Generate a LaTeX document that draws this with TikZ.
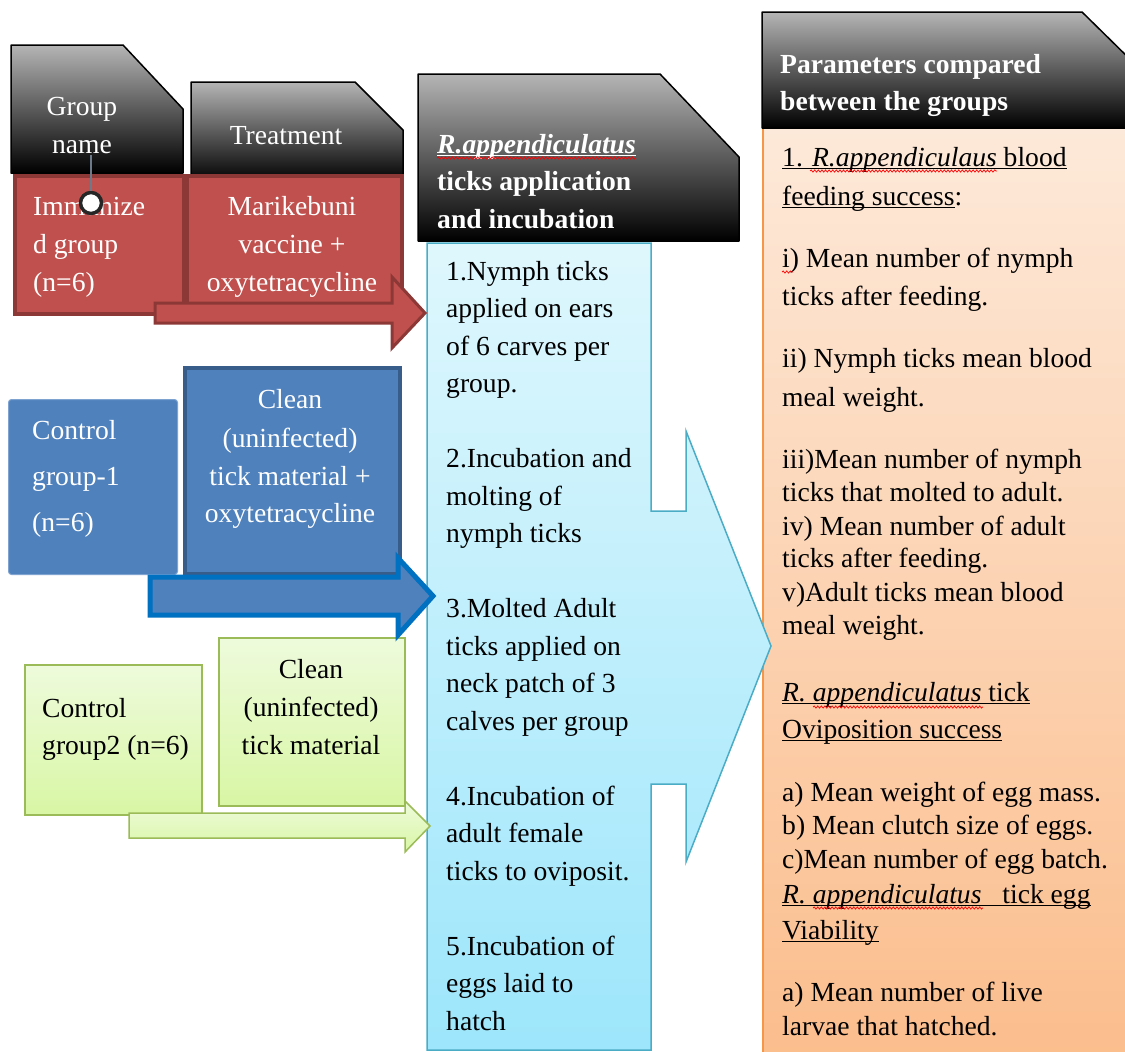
\documentclass[tikz,border=0pt]{standalone}
\usepackage{fontspec}
\setmainfont{Liberation Serif}
\usetikzlibrary{decorations.pathmorphing}
\definecolor{redfill}{HTML}{C0504D}
\definecolor{redline}{HTML}{8C3836}
\definecolor{bluefill}{HTML}{4F81BD}
\definecolor{blueline}{HTML}{385D8A}
\definecolor{bluelight}{HTML}{7FA3D1}
\definecolor{bluearrow}{HTML}{0070C0}
\definecolor{greentop}{HTML}{EEFBDC}
\definecolor{greenbot}{HTML}{D8F6A4}
\definecolor{greenline}{HTML}{9BBB59}
\definecolor{cyantop}{HTML}{DFF7FD}
\definecolor{cyanbot}{HTML}{9DE6FB}
\definecolor{cyanline}{HTML}{4BACC6}
\definecolor{orangetop}{HTML}{FDE9D9}
\definecolor{orangebot}{HTML}{FBBD8C}
\definecolor{orangeline}{HTML}{F79646}
\definecolor{headtop}{HTML}{B5B5B5}
\definecolor{pinline}{HTML}{6C7A89}
\newsavebox\ulbox
\newcommand\ulx[1]{\leavevmode\sbox\ulbox{#1}\rlap{\rule[-3pt]{\wd\ulbox}{1.1pt}}\usebox\ulbox}
\tikzset{
  txt/.style={inner sep=0pt, font=\fontsize{27.6pt}{37.5pt}\selectfont},
  wtxt/.style={txt, text=white},
  btxt/.style={inner sep=0pt, text=white, font=\fontsize{27.6pt}{37.5pt}\selectfont\bfseries},
  header/.style={top color=headtop, bottom color=black, draw=black, line width=1.5pt, line join=round},
  redbox/.style={fill=redfill, draw=redline, line width=3.5pt, anchor=north west, inner sep=0pt},
  bluebox/.style={fill=bluefill, anchor=north west, inner sep=0pt},
  greenbox/.style={top color=greentop, bottom color=greenbot, draw=greenline, line width=1.5pt, anchor=north west, inner sep=0pt},
  squig/.style={red, line width=0.7pt, decorate, decoration={snake, amplitude=1.1pt, segment length=3.6pt}},
}
\begin{document}
\begin{tikzpicture}[x=1pt,y=-1pt]
\useasboundingbox (0,0) rectangle (1125,1052);
\clip (0,0) rectangle (1125,1052);

% right column
\shadedraw[top color=orangetop, bottom color=orangebot, draw=orangeline, line width=1.8pt] (763,128) rectangle (1145,1065);
\shadedraw[header] (762,12) -- (1082,12) -- (1200,128) -- (762,128) -- cycle;

% headers
\shadedraw[header] (11,45) -- (123,45) -- (183,109) -- (183,173) -- (11,173) -- cycle;
\shadedraw[header] (191,82) -- (355,82) -- (403,130) -- (403,182) -- (191,182) -- cycle;
\shadedraw[header] (418,74) -- (660,74) -- (739,157) -- (739,241) -- (418,241) -- cycle;

% group boxes
\node[redbox, minimum width=169, minimum height=138] (immbox) at (13,174) {};
\node[redbox, minimum width=215, minimum height=129] (vacbox) at (185,174) {};
\node[bluebox, rounded corners=3pt, draw=bluelight, line width=1pt, minimum width=169, minimum height=175] (c1box) at (8,399) {};
\node[bluebox, draw=blueline, line width=3.5pt, minimum width=215, minimum height=206] (c1tbox) at (183,366) {};
\node[greenbox, minimum width=177, minimum height=150] (c2box) at (24,664) {};
\node[greenbox, minimum width=186, minimum height=168] (c2tbox) at (218,637) {};

% central process arrow
\shadedraw[top color=cyantop, bottom color=cyanbot, draw=cyanline, line width=1.5pt, line join=miter]
  (427,243) -- (651,243) -- (651,511) -- (686,511) -- (686,431) -- (771,646) -- (686,862)
  -- (686,784) -- (651,784) -- (651,1050) -- (427,1050) -- cycle;

% block arrows
\filldraw[fill=redfill, draw=redline, line width=3pt, line join=miter]
  (155,303) -- (392,303) -- (392,277) -- (425,313) -- (392,348) -- (392,323) -- (155,323) -- cycle;
\filldraw[fill=bluefill, draw=bluearrow, line width=5pt, line join=miter]
  (150,577) -- (398,577) -- (398,558) -- (433,596) -- (398,635) -- (398,615) -- (150,615) -- cycle;
\shadedraw[top color=greentop, bottom color=greenbot, draw=greenline, line width=1.5pt, line join=miter]
  (129,813) -- (405,813) -- (405,801) -- (430,826) -- (405,852) -- (405,838) -- (129,838) -- cycle;

% header texts
\node[wtxt, anchor=base] (gn1) at (82,115) {Group};
\node[wtxt, anchor=base] (gn2) at (82,153) {name};
\node[wtxt, anchor=base] (tr) at (286,144) {Treatment};
\node[btxt, anchor=base west] (ch1) at (437,153) {\ulx{\textit{R.appendiculatus}}};
\node[btxt, anchor=base west] (ch2) at (437,190) {ticks application};
\node[btxt, anchor=base west] (ch3) at (437,228) {and incubation};
\node[btxt, anchor=base west] (rh1) at (780,73) {Parameters compared};
\node[btxt, anchor=base west] (rh2) at (780,110) {between the groups};

% group texts
\node[wtxt, anchor=base west] (im1) at (33,215) {Immunize};
\node[wtxt, anchor=base west] (im2) at (33,253) {d group};
\node[wtxt, anchor=base west] (im3) at (33,291) {(n=6)};
\node[wtxt, anchor=base] (va1) at (292,215) {Marikebuni};
\node[wtxt, anchor=base] (va2) at (292,253) {vaccine +};
\node[wtxt, anchor=base] (va3) at (292,291) {oxytetracycline};
\node[wtxt, anchor=base west] (ca1) at (32,439) {Control};
\node[wtxt, anchor=base west] (ca2) at (32,485) {group-1};
\node[wtxt, anchor=base west] (ca3) at (32,531) {(n=6)};
\node[wtxt, anchor=base] (ct1) at (290,408) {Clean};
\node[wtxt, anchor=base] (ct2) at (290,447) {(uninfected)};
\node[wtxt, anchor=base] (ct3) at (290,485) {tick material +};
\node[wtxt, anchor=base] (ct4) at (290,522) {oxytetracycline};
\node[txt, anchor=base west] (cb1) at (42,717) {Control};
\node[txt, anchor=base west] (cb2) at (42,754) {group2 (n=6)};
\node[txt, anchor=base] (cu1) at (311,678) {Clean};
\node[txt, anchor=base] (cu2) at (311,716) {(uninfected)};
\node[txt, anchor=base] (cu3) at (311,754) {tick material};

% process steps
\foreach \yy/\s [count=\i] in {
  280/{1.Nymph ticks}, 317.5/{applied on ears}, 355/{of 6 carves per}, 392.5/{group.},
  467.5/{2.Incubation and}, 505/{molting of}, 542.5/{nymph ticks},
  617.5/{3.Molted Adult}, 655/{ticks applied on}, 692.5/{neck patch of 3}, 730/{calves per group},
  805/{4.Incubation of}, 842.5/{adult female}, 880/{ticks to oviposit.},
  955/{5.Incubation of}, 992.5/{eggs laid to}, 1030/{hatch}}
  \node[txt, anchor=base west] (step\i) at (446,\yy) {\s};

% parameters
\foreach \yy/\s [count=\i] in {
  166/{\ulx{1. \textit{R.appendiculaus} blood}}, 205/{\ulx{feeding success}:},
  267/{i) Mean number of nymph}, 305/{ticks after feeding.},
  367/{ii) Nymph ticks mean blood}, 406/{meal weight.},
  468/{iii)Mean number of nymph}, 501/{ticks that molted to adult.},
  535/{iv) Mean number of adult}, 567/{ticks after feeding.},
  601/{v)Adult ticks mean blood}, 634.5/{meal weight.},
  701/{\ulx{\textit{R. appendiculatus} tick}}, 738/{\ulx{Oviposition success}},
  801/{a) Mean weight of egg mass.}, 834.5/{b) Mean clutch size of eggs.},
  868/{c)Mean number of egg batch.},
  903/{\ulx{\textit{R. appendiculatus}\hspace{14pt} tick egg}}, 939/{\ulx{Viability}},
  1001/{a) Mean number of live}, 1035.5/{larvae that hatched.}}
  \node[txt, anchor=base west] (par\i) at (782,\yy) {\s};

% spell-check marks
\draw[squig] (437,158) -- (636,158);
\draw[squig] (810,171) -- (997,171);
\draw[squig] (782,272) -- (793,272);
\draw[squig] (813,707) -- (983,707);
\draw[squig] (813,908) -- (983,908);

% pin
\node[circle, fill=white, draw=black!85, line width=3.5pt, minimum size=21, inner sep=0pt] (pin) at (91,203) {};
\coordinate (pintop) at (91,155);
\draw[pinline, line width=1.5pt] (pintop) -- (pin.north);
\end{tikzpicture}
\end{document}
